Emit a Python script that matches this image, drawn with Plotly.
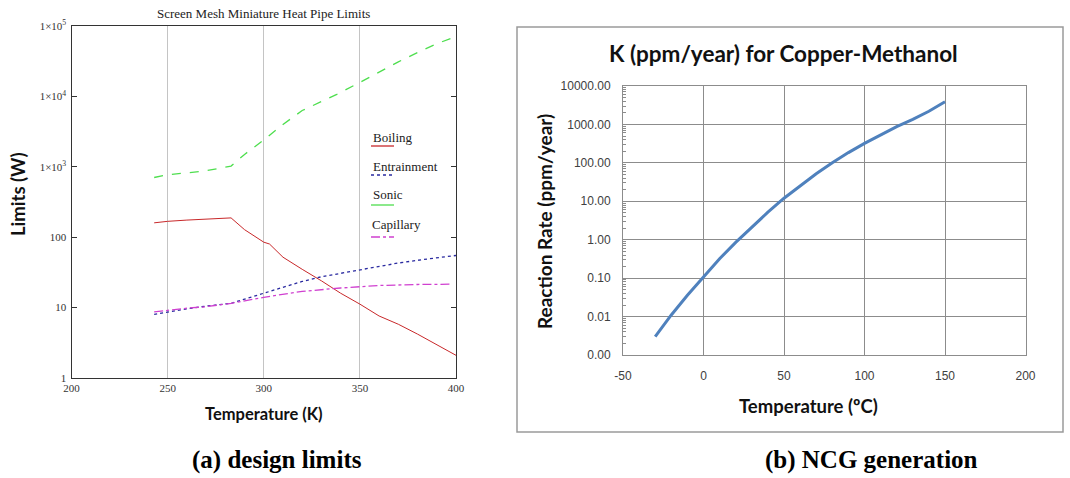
import plotly.graph_objects as go

W, H = 1070, 478

# ---------- (a) design limits data ----------
sonic_T = [243, 250, 260, 270, 283, 290, 300, 310, 320, 330, 338, 350, 360, 370, 383, 390, 400]
sonic_W = [705, 770, 820, 880, 1025, 1500, 2400, 4000, 6300, 8500, 10700, 15800, 22000, 31000, 46000, 56000, 71000]

boil_T = [243, 250, 260, 270, 283, 290, 300, 303, 310, 320, 330, 340, 350, 360, 370, 380, 390, 400]
boil_W = [160, 168, 175, 182, 188, 128, 85, 80, 52, 35, 24, 16, 11.2, 7.6, 5.8, 4.2, 3.0, 2.1]

entr_T = [243, 250, 260, 270, 283, 300, 310, 320, 330, 350, 370, 385, 400]
entr_W = [8.0, 8.7, 9.6, 10.5, 11.5, 16, 19.6, 23.5, 27.4, 34, 43, 49, 55]

cap_T = [243, 250, 260, 270, 283, 300, 320, 340, 360, 380, 397]
cap_W = [8.7, 9.2, 9.8, 10.3, 11.5, 14, 17, 19, 20.6, 21.3, 21.5]

left_ytickvals = [1, 10, 100, 1000, 10000, 100000]
left_yticktext = ["1", "10", "100", "1×10<sup>3</sup>", "1×10<sup>4</sup>", "1×10<sup>5</sup>"]
left_xtickvals = [200, 250, 300, 350, 400]

# ---------- (b) NCG generation data ----------
ncg_T = [-30, -20, -10, 0, 10, 20, 30, 40, 50, 60, 70, 80, 90, 100, 110, 120, 130, 140, 150]
ncg_K = [0.003, 0.011, 0.036, 0.11, 0.32, 0.85, 2.1, 5.2, 12, 25, 52, 100, 185, 320, 540, 880, 1350, 2200, 3900]

right_ytickvals = [0.001, 0.01, 0.1, 1, 10, 100, 1000, 10000]
right_yticktext = ["0.00", "0.01", "0.10", "1.00", "10.00", "100.00", "1000.00", "10000.00"]
right_xtickvals = [-50, 0, 50, 100, 150, 200]
right_xticktext = ["-50", "0", "50", "100", "150", "200"]
minor_vals = [m * 10 ** e for e in range(-3, 4) for m in range(2, 10)]


def px_x(p):
    return p / W


def px_y(p):
    return 1 - p / H


fig = go.Figure()

serif = "Liberation Serif"
sans = "Lato"

fig.add_trace(go.Scatter(x=boil_T, y=boil_W, mode="lines", name="Boiling",
                         line=dict(color="#c8282a", width=1), xaxis="x", yaxis="y"))
fig.add_trace(go.Scatter(x=entr_T, y=entr_W, mode="lines", name="Entrainment",
                         line=dict(color="#2a2aa0", width=1.3, dash="dot"), xaxis="x", yaxis="y"))
fig.add_trace(go.Scatter(x=sonic_T, y=sonic_W, mode="lines", name="Sonic",
                         line=dict(color="#4ede4e", width=1.3, dash="dash"), xaxis="x", yaxis="y"))
fig.add_trace(go.Scatter(x=cap_T, y=cap_W, mode="lines", name="Capillary",
                         line=dict(color="#d040d0", width=1.3, dash="dashdot"), xaxis="x", yaxis="y"))

fig.add_trace(go.Scatter(x=ncg_T, y=ncg_K, mode="lines", name="K",
                         line=dict(color="#4f81bd", width=3), xaxis="x2", yaxis="y2"))

left_dom_x = [px_x(71.5), px_x(456)]
left_dom_y = [px_y(378), px_y(26)]
right_dom_x = [px_x(623), px_x(1025.5)]
right_dom_y = [px_y(355), px_y(86)]

fig.update_layout(
    width=W, height=H,
    margin=dict(l=0, r=0, t=0, b=0, pad=0, autoexpand=False),
    paper_bgcolor="white", plot_bgcolor="white",
    showlegend=False,
    xaxis=dict(domain=left_dom_x, anchor="y", range=[200, 400], tickvals=left_xtickvals,
               showgrid=True, gridcolor="#c4c4c4", gridwidth=1, zeroline=False,
               showline=True, linecolor="#333", linewidth=1.2, mirror=True, ticks="",
               tickfont=dict(family=serif, size=11, color="#333")),
    yaxis=dict(domain=left_dom_y, anchor="x", type="log", range=[0, 5],
               tickvals=left_ytickvals, ticktext=left_yticktext,
               showgrid=False, zeroline=False,
               showline=True, linecolor="#333", linewidth=1.2, mirror="allticks",
               ticks="inside", ticklen=5, tickcolor="#333", ticklabelstandoff=2,
               tickfont=dict(family=serif, size=11, color="#333")),
    xaxis2=dict(domain=right_dom_x, anchor="y2", range=[-50, 200],
                tickvals=right_xtickvals, ticktext=right_xticktext,
                showgrid=True, gridcolor="#8c8c8c", gridwidth=1, zeroline=False,
                showline=True, linecolor="#8c8c8c", linewidth=1, mirror=True, ticks="",
                ticklabelstandoff=10,
                tickfont=dict(family="Liberation Sans", size=12, color="#404040")),
    yaxis2=dict(domain=right_dom_y, anchor="x2", type="log", range=[-3, 4],
                tickvals=right_ytickvals, ticktext=right_yticktext,
                showgrid=True, gridcolor="#8c8c8c", gridwidth=1, zeroline=False,
                showline=True, linecolor="#8c8c8c", linewidth=1, mirror=True, ticks="",
                ticklabelstandoff=9,
                minor=dict(tickvals=minor_vals, ticks="inside", ticklen=3,
                           tickcolor="#8c8c8c", showgrid=False),
                tickfont=dict(family="Liberation Sans", size=12, color="#404040")),
)

annotations = [
    # (a) titles
    dict(text="Screen Mesh Miniature Heat Pipe Limits", x=px_x(263), y=px_y(13),
         font=dict(family=serif, size=13, color="#222")),
    dict(text="<b>Limits (W)</b>", x=px_x(18), y=px_y(194), textangle=-90,
         font=dict(family=sans, size=18.5, color="#111")),
    dict(text="<b>Temperature (K)</b>", x=px_x(264), y=px_y(414),
         font=dict(family=sans, size=16.5, color="#111")),
    # (a) legend labels
    dict(text="Boiling", x=px_x(371), y=px_y(137), xanchor="left",
         font=dict(family=serif, size=13, color="#222")),
    dict(text="Entrainment", x=px_x(371), y=px_y(166), xanchor="left",
         font=dict(family=serif, size=13, color="#222")),
    dict(text="Sonic", x=px_x(371), y=px_y(194), xanchor="left",
         font=dict(family=serif, size=13, color="#222")),
    dict(text="Capillary", x=px_x(370), y=px_y(224), xanchor="left",
         font=dict(family=serif, size=13, color="#222")),
    # (b) titles
    dict(text="<b>K (ppm/year) for Copper-Methanol</b>", x=px_x(783), y=px_y(53),
         font=dict(family=sans, size=22.5, color="#111")),
    dict(text="<b>Reaction Rate (ppm/year)</b>", x=px_x(545), y=px_y(222), textangle=-90,
         font=dict(family=sans, size=19, color="#111")),
    dict(text="<b>Temperature (ºC)</b>", x=px_x(808), y=px_y(406),
         font=dict(family=sans, size=18.5, color="#111")),
    # captions
    dict(text="<b>(a) design limits</b>", x=px_x(277), y=px_y(460),
         font=dict(family=serif, size=25, color="#000")),
    dict(text="<b>(b) NCG generation</b>", x=px_x(871), y=px_y(460),
         font=dict(family=serif, size=25, color="#000")),
]
for a in annotations:
    a.setdefault("xanchor", "center")
    a.update(xref="paper", yref="paper", yanchor="middle", showarrow=False)
fig.update_layout(annotations=annotations)

legend_lines = [
    (146, "#c8282a", "solid"),
    (175, "#2a2aa0", "dot"),
    (205, "#4ede4e", "solid"),
    (237, "#d040d0", "dashdot"),
]
shapes = []
for yy, col, dash in legend_lines:
    shapes.append(dict(type="line", xref="paper", yref="paper",
                       x0=px_x(371), x1=px_x(394), y0=px_y(yy), y1=px_y(yy),
                       line=dict(color=col, width=1.3, dash=dash)))
# border around panel (b)
shapes.append(dict(type="rect", xref="paper", yref="paper",
                   x0=px_x(517), x1=px_x(1063), y0=px_y(432), y1=px_y(27),
                   line=dict(color="#9a9a9a", width=1.5)))
fig.update_layout(shapes=shapes)

fig.write_html("out.html", config={"displayModeBar": False},
               post_script="document.body.style.margin='0';document.body.style.overflow='hidden';")
